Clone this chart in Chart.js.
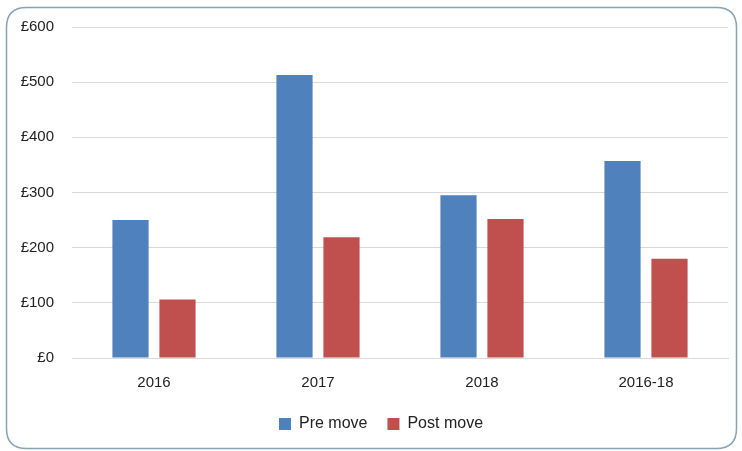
<!DOCTYPE html>
<html>
<head>
<meta charset="utf-8">
<script src="https://cdn.jsdelivr.net/npm/chart.js@4/dist/chart.umd.min.js"></script>
<style>
  html, body { margin: 0; padding: 0; background: #ffffff; }
  #wrap { width: 742px; height: 451px; position: relative; }
</style>
</head>
<body>
<div id="wrap"><canvas id="c" width="742" height="451"></canvas></div>
<script>
const categories = ['2016', '2017', '2018', '2016-18'];
const preMove = [250, 513, 295, 357];
const postMove = [106, 219, 252, 180];
const seriesNames = ['Pre move', 'Post move'];
const yTicks = [0, 100, 200, 300, 400, 500, 600];

const FONT = "'Liberation Sans', Arial, sans-serif";

const frame = {
  id: 'frame',
  beforeLayout(chart) {
    const lg = chart.legend;
    if (lg && !lg._patched) {
      const orig = lg.fit;
      lg.fit = function () { orig.call(this); this.height -= 12; };
      lg._patched = true;
    }
  },
  afterLayout(chart) {
    const lg = chart.legend;
    if (lg) { lg.left += 17; lg.right += 17; lg.top -= 12; lg.bottom -= 12; }
  },
  beforeDraw(chart) {
    const ctx = chart.ctx;
    ctx.save();
    ctx.fillStyle = '#ffffff';
    ctx.fillRect(0, 0, chart.width, chart.height);
    const x = 6.5, y = 7.5, w = 730, h = 441, r = 20;
    ctx.beginPath();
    ctx.moveTo(x + r, y);
    ctx.lineTo(x + w - r, y);
    ctx.quadraticCurveTo(x + w, y, x + w, y + r);
    ctx.lineTo(x + w, y + h - r);
    ctx.quadraticCurveTo(x + w, y + h, x + w - r, y + h);
    ctx.lineTo(x + r, y + h);
    ctx.quadraticCurveTo(x, y + h, x, y + h - r);
    ctx.lineTo(x, y + r);
    ctx.quadraticCurveTo(x, y, x + r, y);
    ctx.closePath();
    ctx.lineWidth = 1.5;
    ctx.strokeStyle = '#86A3B5';
    ctx.stroke();
    ctx.restore();
  }
};

new Chart(document.getElementById('c'), {
  type: 'bar',
  data: {
    labels: categories,
    datasets: [
      { label: seriesNames[0], data: preMove, backgroundColor: '#4F81BD', categoryPercentage: 0.573, barPercentage: 0.77 },
      { label: seriesNames[1], data: postMove, backgroundColor: '#C0504D', categoryPercentage: 0.573, barPercentage: 0.77 }
    ]
  },
  options: {
    responsive: false,
    animation: false,
    devicePixelRatio: 1,
    layout: { padding: { left: 0, right: 14, top: 20, bottom: 9 } },
    plugins: {
      legend: {
        position: 'bottom',
        labels: {
          boxWidth: 12, boxHeight: 12, padding: 20,
          color: '#222', font: { family: FONT, size: 16 }
        }
      },
      tooltip: { enabled: false }
    },
    scales: {
      x: {
        grid: { display: false, drawTicks: false },
        border: { display: true, color: '#D9D9D9', width: 1 },
        ticks: { color: '#222', font: { family: FONT, size: 15 }, padding: 16 }
      },
      y: {
        min: 0, max: 600,
        afterFit(s) { s.width = 72; },
        afterBuildTicks(s) { s.ticks = yTicks.map(v => ({ value: v })); },
        grid: { color: '#D9D9D9', drawTicks: false },
        border: { display: false },
        ticks: {
          color: '#222', font: { family: FONT, size: 15 }, padding: 18,
          callback: v => '£' + v
        }
      }
    }
  },
  plugins: [frame]
});
</script>
</body>
</html>
